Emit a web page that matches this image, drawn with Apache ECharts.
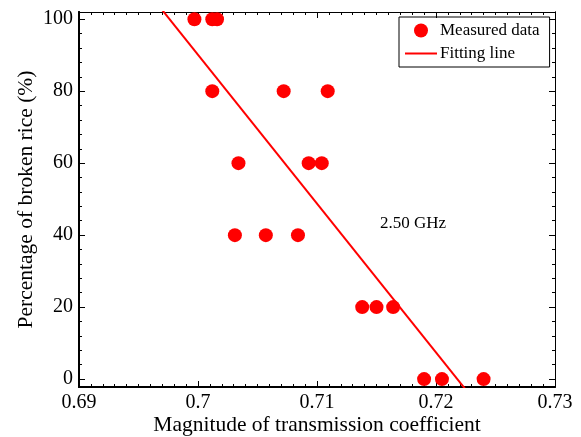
<!DOCTYPE html>
<html>
<head>
<meta charset="utf-8">
<script src="https://cdn.jsdelivr.net/npm/echarts@6/dist/echarts.min.js"></script>
<style>
  html, body { margin: 0; padding: 0; background: #fff; }
  #chart { width: 581px; height: 437px; }
</style>
</head>
<body>
<div id="chart"></div>
<script>
// measured points (magnitude, broken rice %)
var measuredX = [0.6997, 0.7012, 0.7016, 0.7012, 0.7072, 0.7109, 0.7034, 0.7093, 0.7104,
  0.7031, 0.7057, 0.7084, 0.7138, 0.7150, 0.7164, 0.7190, 0.7205, 0.7240]
var measuredY = [100, 100, 100, 80, 80, 80, 60, 60, 60, 40, 40, 40, 20, 20, 20, 0, 0, 0]
// fitted line end points (clipped by the grid)
var fitX = [0.6964, 0.7230]
var fitY = [105, -5]
var yLabels = [0, 20, 40, 60, 80, 100]
var yMinor = [0, 4, 8, 12, 16, 20, 24, 28, 32, 36, 40, 44, 48, 52, 56, 60, 64, 68, 72, 76, 80, 84, 88, 92, 96, 100]

var font = 'Liberation Serif'
var chart = echarts.init(document.getElementById('chart'))

function yAxis(pos, major, labels, lineW) {
  return {
    type: 'value',
    position: pos,
    min: -2.2,
    max: 102,
    axisLine: { show: true, onZero: false, lineStyle: { color: '#000', width: lineW } },
    axisTick: {
      show: true, inside: true, length: major ? 6 : 3,
      customValues: major ? yLabels : yMinor,
      lineStyle: { color: '#000', width: 1 }
    },
    axisLabel: {
      show: labels, customValues: yLabels, margin: 6,
      color: '#000', fontFamily: font, fontSize: 20
    },
    splitLine: { show: false },
    name: labels ? 'Percentage of broken rice (%)' : '',
    nameLocation: 'middle',
    nameGap: 42,
    nameMoveOverlap: false,
    nameTextStyle: { color: '#000', fontFamily: font, fontSize: 21.5 }
  }
}

function xAxis(pos, labels, lineW) {
  return {
    type: 'value',
    position: pos,
    min: 0.69,
    max: 0.73,
    interval: 0.01,
    axisLine: { show: true, onZero: false, lineStyle: { color: '#000', width: lineW } },
    axisTick: { show: true, inside: true, length: 6, lineStyle: { color: '#000', width: 1 } },
    minorTick: { show: true, splitNumber: 10, length: 3, lineStyle: { color: '#000', width: 1 } },
    axisLabel: { show: labels, margin: 6, color: '#000', fontFamily: font, fontSize: 20 },
    splitLine: { show: false },
    name: labels ? 'Magnitude of transmission coefficient' : '',
    nameLocation: 'middle',
    nameGap: 27,
    nameMoveOverlap: false,
    nameTextStyle: { color: '#000', fontFamily: font, fontSize: 21.5 }
  }
}

chart.setOption({
  animation: false,
  grid: { left: 79, right: 26, top: 12, bottom: 50, outerBoundsMode: 'none', containLabel: false },
  xAxis: [xAxis('bottom', true, 2), xAxis('top', false, 1)],
  yAxis: [
    yAxis('left', true, true, 2),
    yAxis('left', false, false, 2),
    yAxis('right', true, false, 1),
    yAxis('right', false, false, 1)
  ],
  legend: {
    orient: 'vertical',
    left: 399,
    top: 17,
    width: 150,
    padding: [5, 10, 5, 6],
    itemGap: 6,
    itemWidth: 32,
    itemHeight: 14,
    borderColor: '#000',
    borderWidth: 1,
    textStyle: { color: '#000', fontFamily: font, fontSize: 17, padding: [0, 0, 0, -2] },
    data: [
      { name: 'Measured data', icon: 'circle' },
      { name: 'Fitting line', icon: 'path://M0,0h32v2h-32z' }
    ]
  },
  graphic: [{
    type: 'text',
    left: 380,
    top: 215,
    style: { text: '2.50 GHz', fill: '#000', font: '17px "Liberation Serif"' }
  }],
  series: [
    {
      name: 'Measured data',
      type: 'scatter',
      symbol: 'circle',
      symbolSize: 14,
      itemStyle: { color: '#ff0000', opacity: 1 },
      data: measuredX.map(function (x, i) { return [x, measuredY[i]] })
    },
    {
      name: 'Fitting line',
      type: 'line',
      symbol: 'none',
      clip: true,
      lineStyle: { color: '#ff0000', width: 2 },
      itemStyle: { color: '#ff0000' },
      data: fitX.map(function (x, i) { return [x, fitY[i]] })
    }
  ]
})
</script>
</body>
</html>
